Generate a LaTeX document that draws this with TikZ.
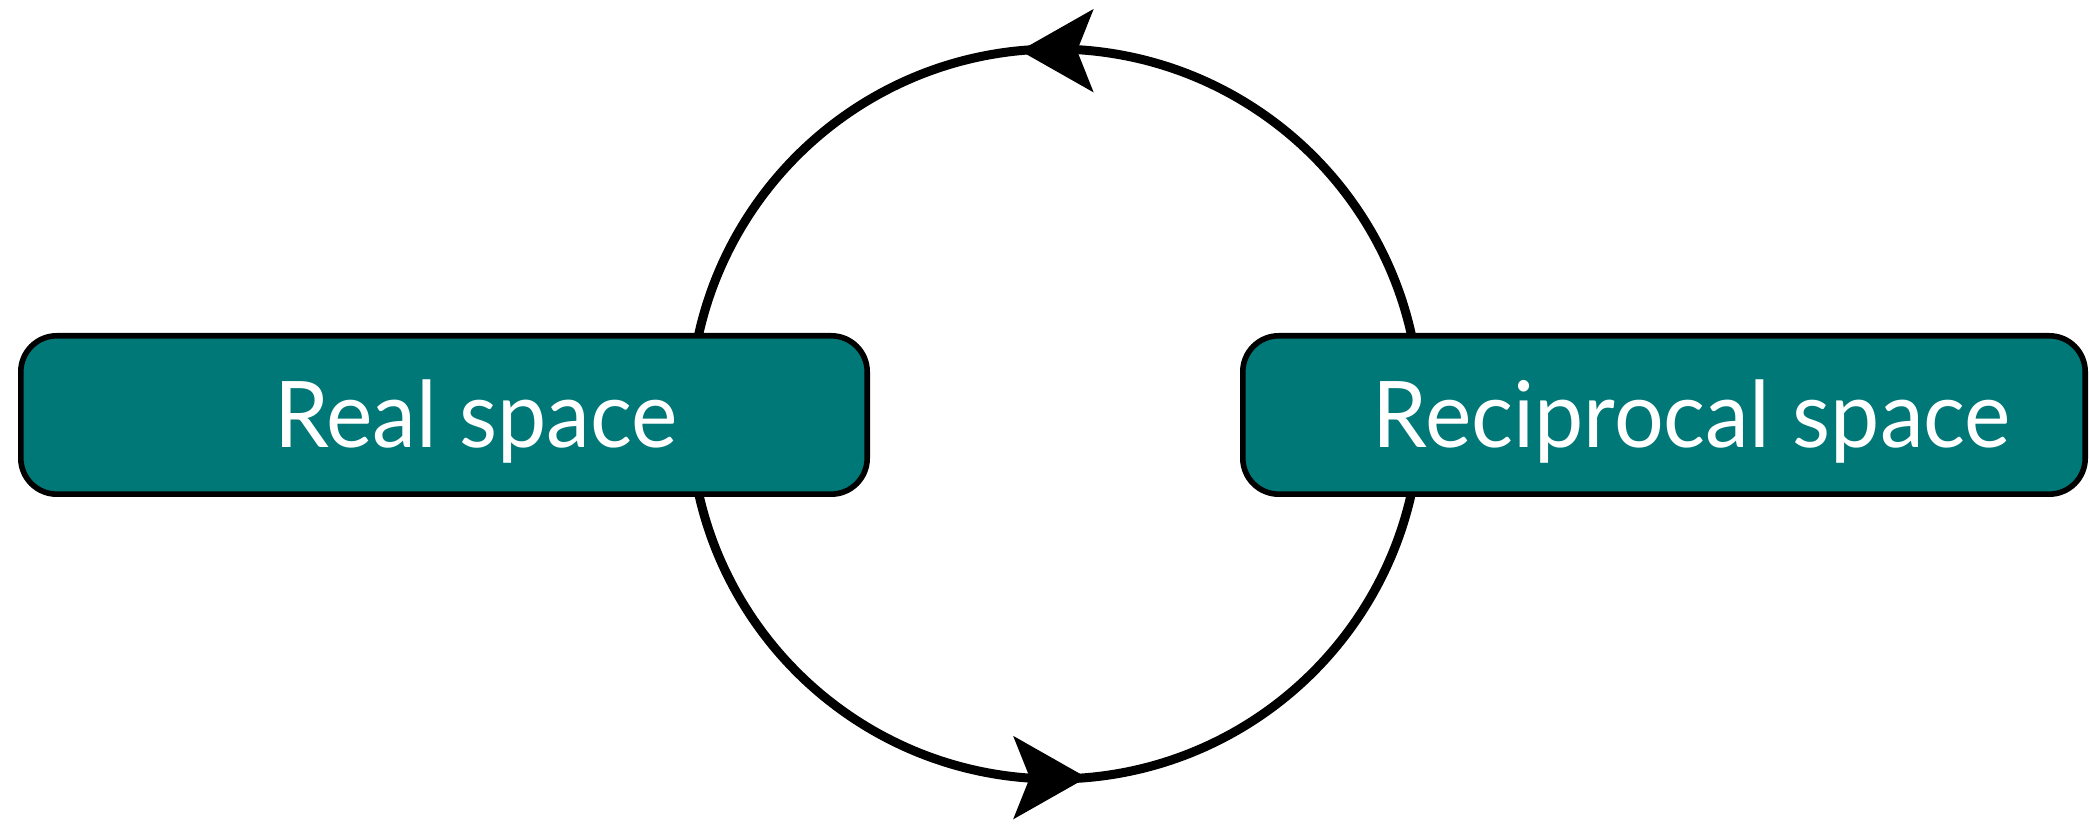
\documentclass[tikz,border=0pt]{standalone}
\usepackage{fontspec}
\setmainfont{Lato}[FakeStretch=0.955]
\usetikzlibrary{arrows.meta}
\definecolor{boxteal}{RGB}{0,120,119}
\begin{document}
\begin{tikzpicture}[x=0.5pt,y=0.5pt,
  spacebox/.style={draw=black,line width=2.8pt,fill=boxteal,rounded corners=18pt,
    minimum height=79.2pt,text=white,font=\fontsize{46}{55}\selectfont,
    text height=33pt,text depth=0pt,inner sep=0pt},
  cyc/.style={line width=4.5pt,draw=black},
  tip/.style={-{Stealth[length=36.5pt,width=41pt,inset=8pt]}}]
\useasboundingbox (0,0) rectangle (2089,824);
\coordinate (c) at (1055,410);
\draw[cyc] (c) circle[radius=365];
\coordinate (toptip) at ([shift={(95.5:365)}]c);
\coordinate (bottip) at ([shift={(275:365)}]c);
\draw[cyc,tip] (toptip) ++(8,0) -- (toptip);
\draw[cyc,tip] (bottip) ++(-8,0) -- (bottip);
\node[spacebox,minimum width=423.2pt] (real) at (444,409) {\hspace*{32pt}Real space};
\node[spacebox,minimum width=421.2pt] (recip) at (1664,409) {\hspace*{28pt}Reciprocal space};
\end{tikzpicture}
\end{document}
